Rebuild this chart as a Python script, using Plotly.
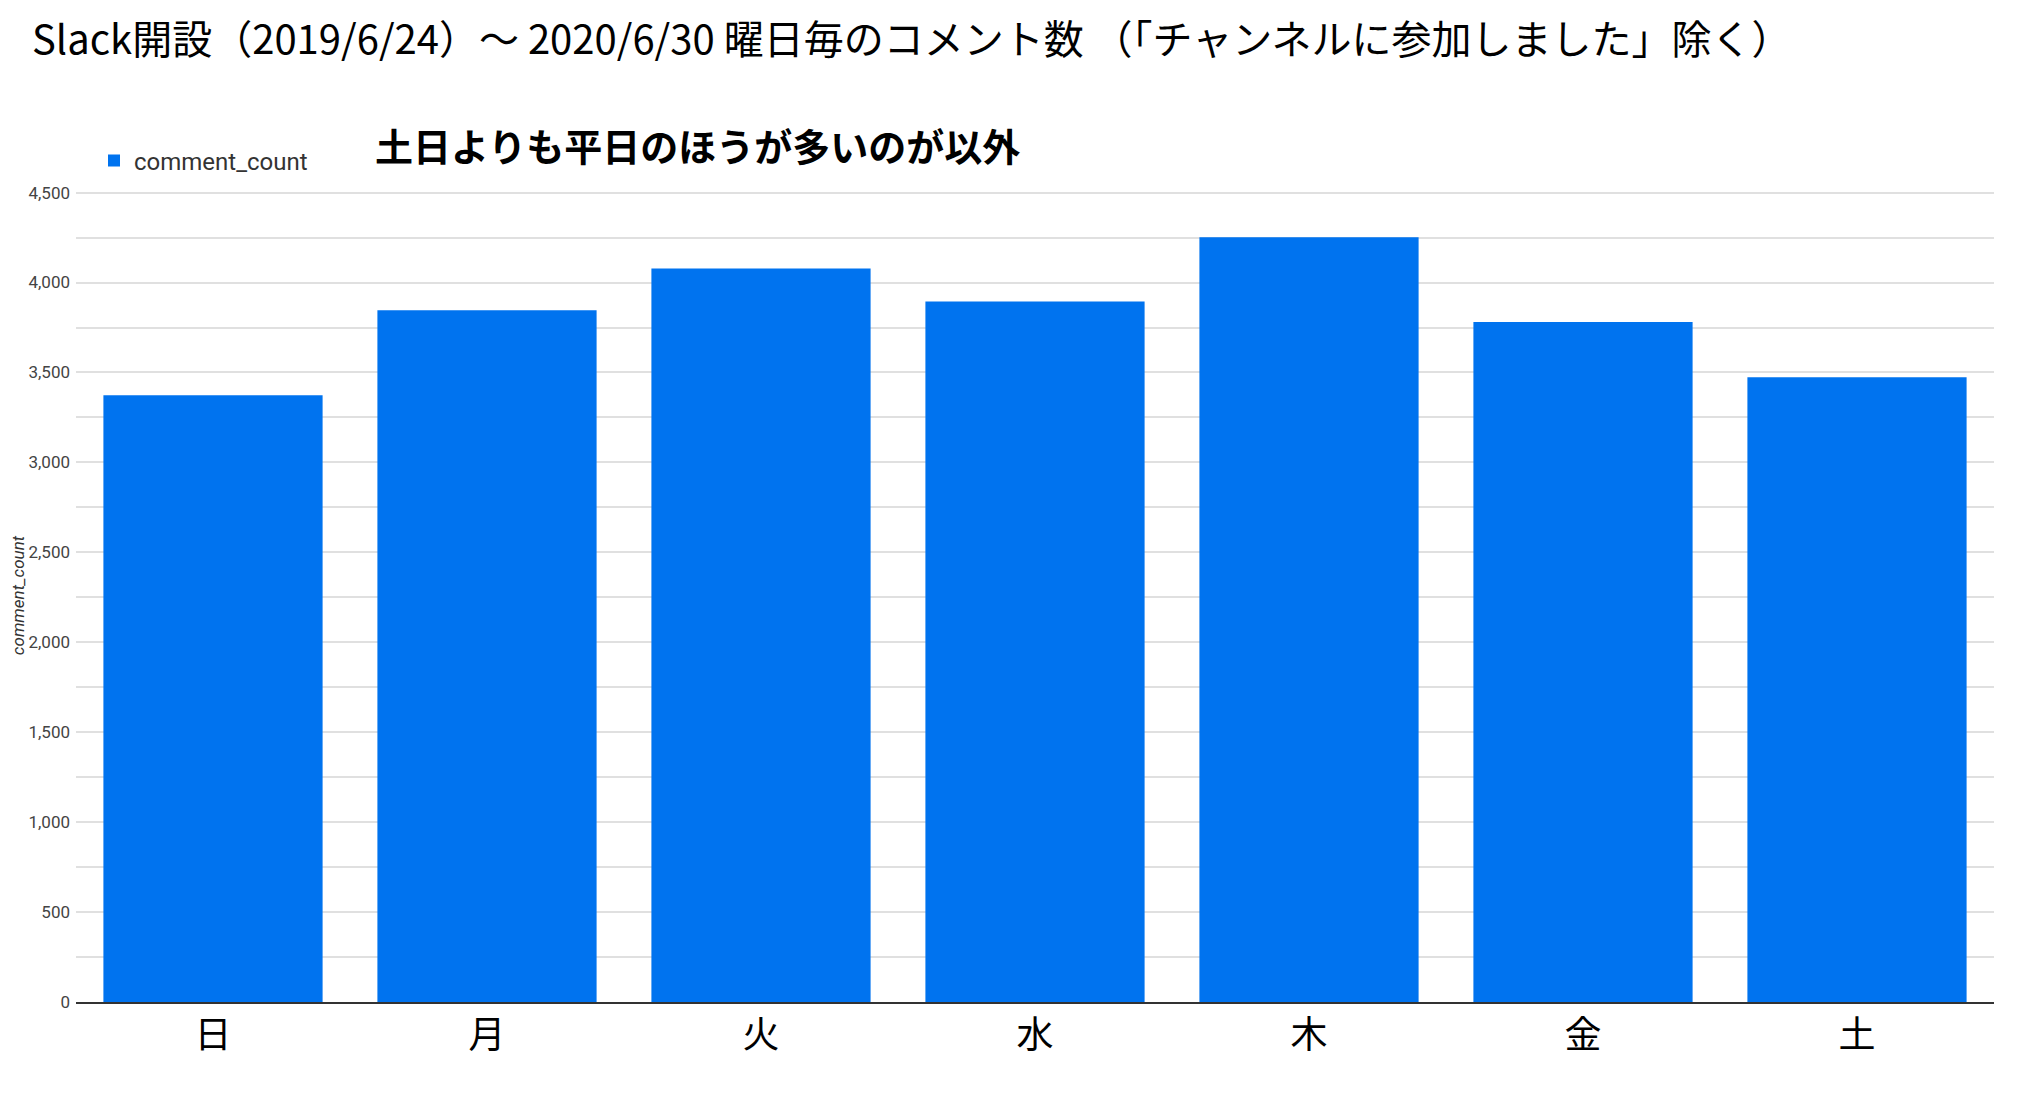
import plotly.graph_objects as go

days = ["日", "月", "火", "水", "木", "金", "土"]
comment_count = [3374, 3846, 4078, 3894, 4252, 3781, 3474]
y_ticks = [0, 500, 1000, 1500, 2000, 2500, 3000, 3500, 4000, 4500]
y_labels = ["0", "500", "1,000", "1,500", "2,000", "2,500", "3,000", "3,500", "4,000", "4,500"]

# page has an 8px body margin, so figure coords = screenshot coords - 8
W, H = 2015, 1077
L, R, T, B = 68, 29, 181, 83
PW = W - L - R
PH = H - T - B
Y_TOP = 4520

def py(pix):  # figure pixel y -> paper y
    return (H - B - pix) / PH

def px(pix):  # figure pixel x -> paper x
    return (pix - L) / PW

fig = go.Figure()
fig.add_trace(go.Bar(x=days, y=comment_count, name="comment_count",
                     marker=dict(color="#0073ef", line=dict(width=0))))

fig.update_layout(
    width=W, height=H,
    margin=dict(l=L, r=R, t=T, b=B, autoexpand=False),
    paper_bgcolor="white", plot_bgcolor="white",
    bargap=0.2,
    showlegend=True,
    legend=dict(orientation="h", x=px(86), xanchor="left", y=py(153),
                yanchor="middle", font=dict(family="Roboto", size=24, color="#333333"),
                bgcolor="rgba(0,0,0,0)"),
    title=dict(text="Slack開設（2019/6/24）～ 2020/6/30 曜日毎のコメント数 （「チャンネルに参加しました」除く）",
               x=24 / W, xanchor="left", xref="container",
               y=1 - 32 / H, yanchor="middle", yref="container",
               font=dict(family="Noto Sans CJK JP", size=40, color="black")),
    font=dict(family="Roboto"),
)

fig.add_annotation(text="<b>土日よりも平日のほうが多いのが以外</b>",
                   xref="paper", yref="paper",
                   x=px(365), xanchor="left",
                   y=py(136), yanchor="middle",
                   showarrow=False,
                   font=dict(family="Noto Sans CJK JP", size=38, color="black"))

fig.update_xaxes(
    showgrid=False, ticks="", showline=True, linecolor="#333333", linewidth=2,
    tickfont=dict(family="Noto Sans CJK JP", size=37, color="black"),
    ticklabelstandoff=0, automargin=False,
)
fig.update_yaxes(
    range=[0, Y_TOP], tickvals=y_ticks, ticktext=y_labels,
    showgrid=True, gridcolor="#e0e0e0", gridwidth=1.5,
    minor=dict(dtick=250, tick0=0, showgrid=True, gridcolor="#e0e0e0", gridwidth=1.5),
    zeroline=False, ticks="", showline=False,
    tickfont=dict(family="Roboto", size=17, color="#444444"),
    ticklabelstandoff=5,
    title=dict(text="<i>comment_count</i>", standoff=8,
               font=dict(family="Roboto", size=17, color="#333333")),
    automargin=False,
)

fig.write_html("out.html")
